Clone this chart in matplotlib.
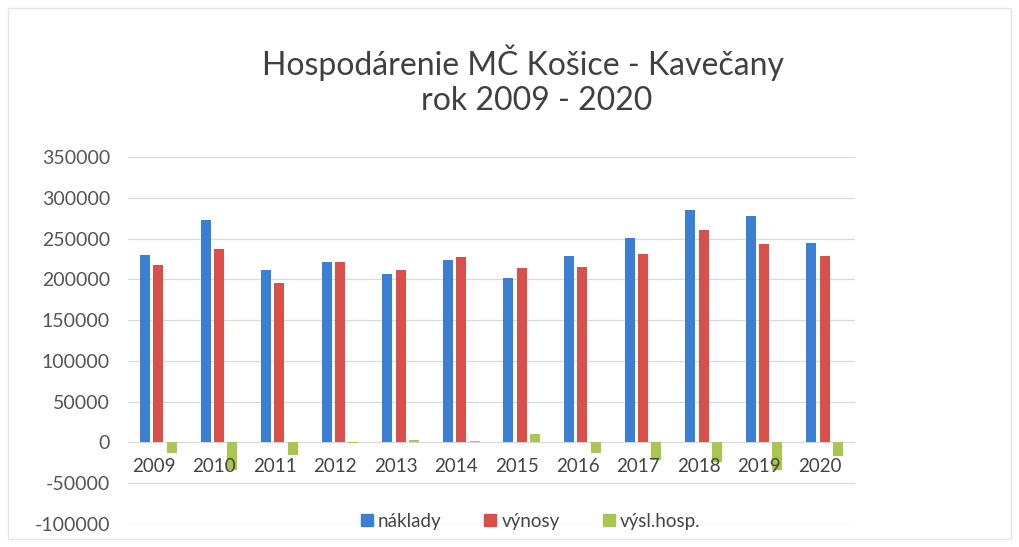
"""
Hospodarenie MC Kosice - Kavecany, stlpcovy graf 2009 - 2020
"""

import numpy as np
import matplotlib
matplotlib.use("Agg")
import matplotlib.pyplot as plt
from matplotlib.lines import Line2D

plt.rcParams['font.family'] = ['Lato', 'DejaVu Sans']

# data odcitane z grafu
years = ['2009', '2010', '2011', '2012', '2013', '2014',
         '2015', '2016', '2017', '2018', '2019', '2020']
naklady = [230000, 273000, 211500, 221000, 207000, 224000,
           202000, 229000, 251000, 285000, 277500, 244500]
vynosy = [217500, 237000, 196000, 221000, 212000, 227500,
          213500, 215000, 231000, 260500, 243500, 228000]
vysl_hosp = [-13000, -34000, -15500, -500, 3000, 1500,
             10000, -13500, -21500, -24000, -34000, -16500]

series_names = ['náklady', 'výnosy', 'výsl.hosp.']
colors = ['#3b7fd4', '#d9504a', '#a9c650']
yticks = list(range(-100000, 350001, 50000))

fig = plt.figure(figsize=(10.19, 5.47), dpi=100)
ax = fig.add_axes([0.1256, 0.042, 0.7135, 0.671])

x = np.arange(len(years))
w = 0.165
step = 0.22
for i, vals in enumerate([naklady, vynosy, vysl_hosp]):
    ax.bar(x + (i - 1) * step, vals, width=w, color=colors[i], zorder=3)

ax.set_xlim(-0.5, len(years) - 0.5)
ax.set_ylim(-100000, 350000)
ax.set_yticks(yticks)
ax.set_yticklabels([str(v) for v in yticks], fontsize=14, color='#555555')
ax.tick_params(axis='y', length=0, pad=13)
ax.set_xticks([])
ax.grid(axis='y', color='#d9d9d9', linewidth=0.9, zorder=0)
for s in ax.spines.values():
    s.set_visible(False)

# popisky rokov hned pod nulovou osou
for xi, yr in zip(x, years):
    ax.annotate(yr, (xi - 0.08, 0), xytext=(0, -17), textcoords='offset points',
                ha='center', va='center', fontsize=13.5, color='#444444')

fig.text(0.513, 0.886, 'Hospodárenie MČ Košice - Kavečany', ha='center',
         va='center', fontsize=23, color='#404040')
fig.text(0.527, 0.816, 'rok 2009 - 2020', ha='center', va='center',
         fontsize=23, color='#404040')

handles = [Line2D([], [], marker='s', linestyle='none', markersize=8,
                  color=c) for c in colors]
fig.legend(handles, series_names, loc='center', bbox_to_anchor=(0.518, 0.047),
           ncol=3, frameon=False, fontsize=13.5, handletextpad=0.0,
           handlelength=1.2, columnspacing=2.0, labelcolor='#444444')

# jemny ramcek okolo celeho grafu
fig.patches.append(plt.Rectangle((0.008, 0.015), 0.984, 0.97,
                                 transform=fig.transFigure, fill=False,
                                 edgecolor='#e6e6e6', linewidth=1))

plt.savefig('out.png', dpi=100)
